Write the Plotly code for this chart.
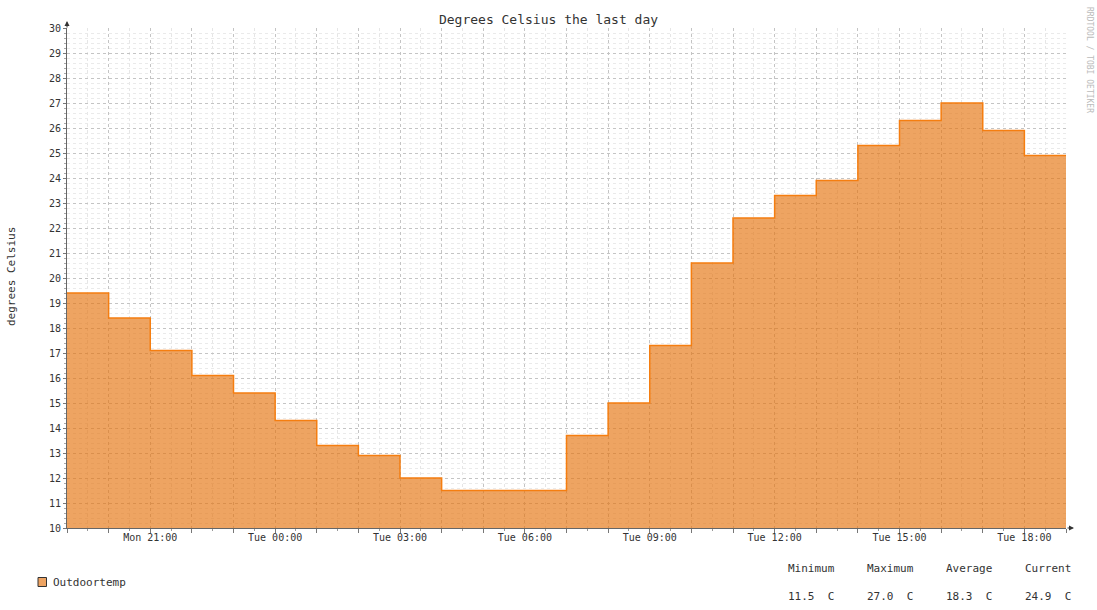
import plotly.graph_objects as go
import pandas as pd

# ---- data ----
hour_starts = pd.date_range("2024-06-10 19:00", periods=24, freq="h")
temps = [19.4, 18.4, 17.1, 16.1, 15.4, 14.3, 13.3, 12.9, 12.0, 11.5, 11.5, 11.5,
         13.7, 15.0, 17.3, 20.6, 22.4, 23.3, 23.9, 25.3, 26.3, 27.0, 25.9, 24.9]
series_name = "Outdoortemp"
stat_names = ["Minimum", "Maximum", "Average", "Current"]
stat_values = ["11.5  C", "27.0  C", "18.3  C", "24.9  C"]
label_times = pd.date_range("2024-06-10 21:00", periods=8, freq="3h")
label_texts = ["Mon 21:00", "Tue 00:00", "Tue 03:00", "Tue 06:00",
               "Tue 09:00", "Tue 12:00", "Tue 15:00", "Tue 18:00"]

# ---- layout constants ----
W, H = 1097, 610
L, R, T, B = 67, 1066, 28, 528
PW, PH = R - L, B - T
FONT = "DejaVu Sans Mono"
TXT = "#333333"

def px(x):
    return (x - L) / PW

def py(y):
    return (B - y) / PH

end_time = hour_starts[-1] + pd.Timedelta(hours=1)
xs = list(hour_starts) + [end_time]
ys = temps + [temps[-1]]

fig = go.Figure()
fig.add_trace(go.Scatter(
    x=xs, y=ys, mode="lines", line=dict(shape="hv", color="#F57E10", width=1.5),
    fill="tozeroy", fillcolor="rgba(229,112,10,0.64)", name=series_name,
    showlegend=False, hoverinfo="x+y"))

hour_ticks = list(hour_starts) + [end_time]
label_map = {t: s for t, s in zip(label_times, label_texts)}
tick_text = [label_map.get(t, "") for t in hour_ticks]

fig.update_layout(
    width=W, height=H,
    margin=dict(l=L, r=W - R, t=T, b=H - B),
    paper_bgcolor="white", plot_bgcolor="white",
    font=dict(family=FONT, color=TXT, size=10),
    title=dict(text="Degrees Celsius the last day", x=0.5, xref="container",
               y=1 - 19 / H, yref="container", yanchor="middle", xanchor="center",
               font=dict(family=FONT, size=13, color=TXT)),
    xaxis=dict(
        type="date", range=[hour_starts[0], end_time],
        tickmode="array", tickvals=hour_ticks, ticktext=tick_text,
        showgrid=True, gridcolor="#C4C4C4", griddash="dot", gridwidth=1,
        minor=dict(dtick=1800000, tick0=hour_starts[0], showgrid=True,
                   gridcolor="#E6E6E6", griddash="dot", ticks="outside",
                   ticklen=2, tickcolor="#999999"),
        ticks="outside", ticklen=4, tickcolor="#777777",
        ticklabelstandoff=-4,
        showline=True, linecolor="#666666", linewidth=1,
        tickfont=dict(family=FONT, size=10, color=TXT),
        zeroline=False, fixedrange=True,
    ),
    yaxis=dict(
        range=[10, 30], tickmode="linear", tick0=10, dtick=1,
        showgrid=True, gridcolor="#C4C4C4", griddash="dot", gridwidth=1,
        minor=dict(dtick=0.2, showgrid=True, gridcolor="#EAEAEA", griddash="dot",
                   ticks="outside", ticklen=2, tickcolor="#AAAAAA"),
        ticks="outside", ticklen=3, tickcolor="#777777",
        showline=True, linecolor="#666666", linewidth=1,
        tickfont=dict(family=FONT, size=10, color=TXT),
        zeroline=False, fixedrange=True,
    ),
)

annotations = [
    dict(text="degrees Celsius", textangle=-90, xref="paper", yref="paper",
         x=px(11), y=py(277), showarrow=False, xanchor="center", yanchor="middle",
         font=dict(family=FONT, size=11, color=TXT)),
    dict(text="RRDTOOL / TOBI OETIKER", textangle=90, xref="paper", yref="paper",
         x=px(1089), y=py(60), showarrow=False, xanchor="center", yanchor="middle",
         font=dict(family=FONT, size=8, color="#BBBBBB")),
    # axis arrows
    dict(text="", xref="paper", yref="paper", x=0, y=py(21), ax=0, ay=8,
         showarrow=True, arrowhead=2, arrowsize=1, arrowwidth=1, arrowcolor="#333333"),
    dict(text="", xref="paper", yref="paper", x=px(1074), y=0, ax=-8, ay=0,
         showarrow=True, arrowhead=2, arrowsize=1, arrowwidth=1, arrowcolor="#333333"),
    dict(text=series_name, xref="paper", yref="paper", x=px(51), y=py(582),
         showarrow=False, xanchor="left", yanchor="middle",
         font=dict(family=FONT, size=11, color=TXT)),
]
stat_x = [786, 865, 944, 1023]
for sx, name, val in zip(stat_x, stat_names, stat_values):
    annotations.append(dict(text=name, xref="paper", yref="paper", x=px(sx), y=py(568),
                            showarrow=False, xanchor="left", yanchor="middle",
                            font=dict(family=FONT, size=11, color=TXT)))
    annotations.append(dict(text=val.replace(" ", "&nbsp;"), xref="paper", yref="paper",
                            x=px(sx), y=py(596), showarrow=False, xanchor="left",
                            yanchor="middle", font=dict(family=FONT, size=11, color=TXT)))
fig.update_layout(annotations=annotations)

fig.add_shape(type="rect", xref="paper", yref="paper",
              x0=px(38), x1=px(46.5), y0=py(586.5), y1=py(577.5),
              fillcolor="#EDA362", line=dict(color="#333333", width=1))

fig.write_html(
    "out.html",
    config={"displayModeBar": False},
    post_script="document.body.style.margin='0';document.body.style.overflow='hidden';",
)
